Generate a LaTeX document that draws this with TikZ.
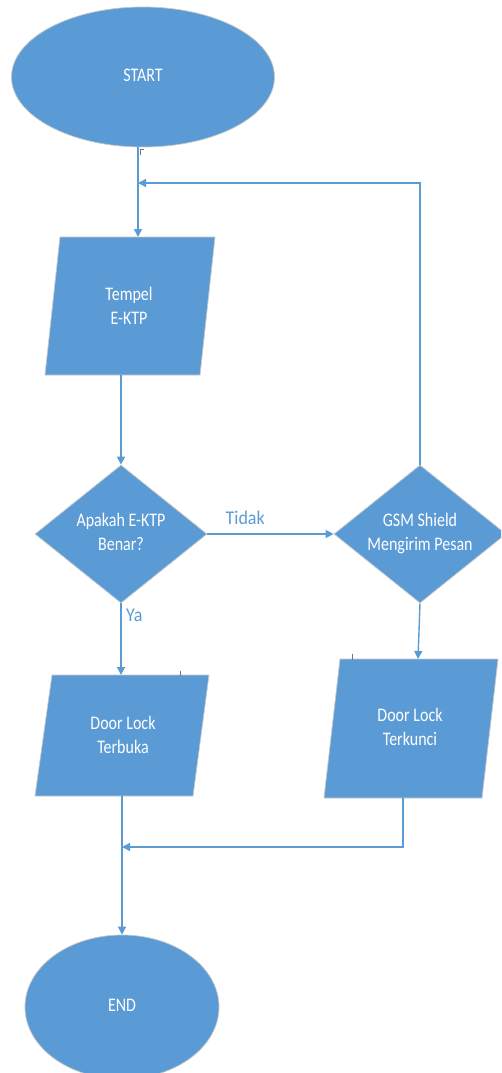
\documentclass[tikz,border=0pt]{standalone}
\usepackage{fontspec}
\setmainfont{Carlito}
\usepackage{graphicx}
\usetikzlibrary{shapes.geometric,arrows.meta}
\definecolor{boxblue}{HTML}{5B9BD5}
\definecolor{wireblue}{HTML}{5B9BD5}
% white shape labels, slightly tall letters
\newcommand{\shapetext}[1]{\scalebox{1}[1.2]{\begin{tabular}{@{}c@{}}#1\end{tabular}}}
\newcommand{\flowtag}[1]{\scalebox{1}[1.08]{#1}}

\begin{document}
\begin{tikzpicture}[x=1pt,y=-1pt,
  blob/.style={fill=boxblue, draw=black!22, line width=0.7pt},
  txt/.style={text=white, font=\fontsize{16}{20}\selectfont, inner sep=0pt},
  term/.style={blob, ellipse, inner sep=0pt, minimum width=263pt, minimum height=140pt},
  decide/.style={blob, diamond, aspect=1.25, inner sep=0pt, minimum width=172pt, minimum height=138pt},
  flow/.style={draw=wireblue, line width=1.4pt, -{Triangle[length=8pt,width=8pt]}},
  plainflow/.style={draw=wireblue, line width=1.4pt},
  tag/.style={text=wireblue, font=\fontsize{18}{20}\selectfont, inner sep=0pt},
  tick/.style={draw=black!55, line width=0.6pt}]
\useasboundingbox (0,0) rectangle (501,1073);
\clip (0,0) rectangle (501,1073);

% terminals
\node[term, txt] (start) at (143,77) {\shapetext{START}};
\node[term, txt, minimum width=194pt, minimum height=144pt] (stop) at (122,1007) {\shapetext{END}};

% input/output parallelograms
\fill[blob] (60,237) -- (215,237) -- (200,375) -- (45,375) -- cycle;
\node[txt] (tempel) at (129,308) {\shapetext{Tempel\\E-KTP}};
\fill[blob] (52,675) -- (209,675) -- (193,796) -- (35,796) -- cycle;
\node[txt] (buka) at (123,737) {\shapetext{Door Lock\\Terbuka}};
\fill[blob] (340,659) -- (498,659) -- (482,798) -- (324,798) -- cycle;
\node[txt] (kunci) at (410,729) {\shapetext{Door Lock\\Terkunci}};

% decisions
\node[decide, txt] (cek) at (121,534) {\shapetext{Apakah E-KTP\\Benar?}};
\node[decide, txt] (gsm) at (420,534) {\shapetext{GSM Shield\\Mengirim Pesan}};

% connector end points on the parallelograms and ellipse
\coordinate (startout) at (138,147);
\coordinate (tempelin) at (138,237);
\coordinate (tempelout) at (121,375);
\coordinate (bukain) at (121,675);
\coordinate (bukaout) at (122,796);
\coordinate (kunciin) at (418,659);
\coordinate (kunciout) at (403,798);
\coordinate (loop) at (138,183);
\coordinate (merge) at (122,847);

% connectors
\draw[flow] (startout) -- (tempelin);
\draw[flow] (gsm.north) |- (loop);
\draw[flow] (tempelout) -- (cek.north);
\draw[flow] (cek.east) -- node[tag, above=9pt, pos=0.3] {\flowtag{Tidak}} (gsm.west);
\draw[flow] (cek.south) -- (bukain);
\node[tag, anchor=west] (ya) at (126,615) {\flowtag{Ya}};
\draw[flow] (gsm.south) -- (kunciin);
\draw[flow] (kunciout) |- (merge);
\draw[plainflow] (bukaout) -- (merge);
\draw[flow] (merge) -- (stop.north);

% small stray marks along the box tops
\draw[tick] (180,671) -- (180,676);
\draw[tick] (352,654) -- (352,660);
\draw[tick] (140,149) -- (140,155);
\draw[tick] (140,149) -- (144,149);
\end{tikzpicture}
\end{document}
